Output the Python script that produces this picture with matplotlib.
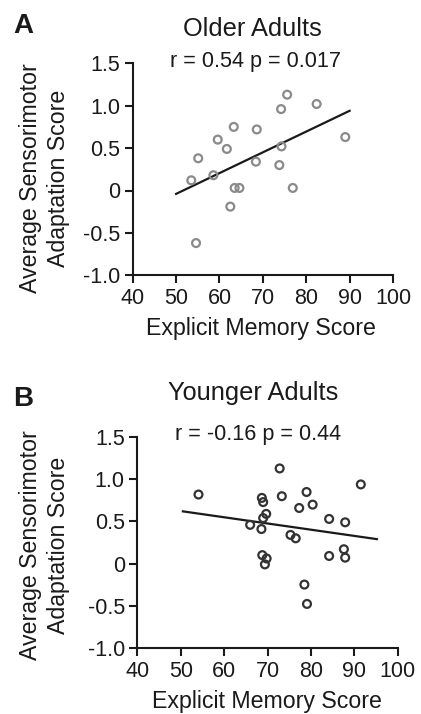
import matplotlib
matplotlib.use("Agg")
import matplotlib.pyplot as plt

plt.rcParams['font.family'] = ['Liberation Sans', 'DejaVu Sans']

# Older adults (panel A)
older_x = [53.5, 55.1, 54.6, 58.6, 59.6, 61.7, 63.3, 62.5, 63.5, 64.6,
           68.6, 68.4, 74.2, 75.6, 74.3, 73.8, 76.9, 82.4, 89.0]
older_y = [0.12, 0.38, -0.62, 0.18, 0.60, 0.49, 0.75, -0.19, 0.03, 0.03,
           0.72, 0.34, 0.96, 1.13, 0.52, 0.30, 0.03, 1.02, 0.63]
older_fit_x = [50, 90]
older_fit_y = [-0.04, 0.94]

# Younger adults (panel B)
younger_x = [54.1, 72.8, 91.5, 68.7, 69.0, 73.3, 79.0, 80.4, 77.3, 69.7,
             69.0, 66.0, 68.6, 84.2, 87.9, 75.3, 76.5, 68.8, 69.8, 69.4,
             84.2, 87.6, 87.9, 78.5, 79.1]
younger_y = [0.82, 1.13, 0.94, 0.78, 0.73, 0.80, 0.85, 0.70, 0.66, 0.59,
             0.54, 0.46, 0.41, 0.53, 0.49, 0.34, 0.30, 0.10, 0.06, -0.01,
             0.09, 0.17, 0.07, -0.25, -0.48]
younger_fit_x = [50.5, 95.2]
younger_fit_y = [0.62, 0.29]

x_ticks = [40, 50, 60, 70, 80, 90, 100]
y_ticks = [-1.0, -0.5, 0, 0.5, 1.0, 1.5]
y_ticklabels = ['-1.0', '-0.5', '0', '0.5', '1.0', '1.5']

W, H = 421, 714
fig = plt.figure(figsize=(W / 100, H / 100), dpi=100)
INK = '#1a1a1a'


def fx(px):
    return px / W


def fy(py):
    return 1 - py / H


def make_panel(rect, xs, ys, lx, ly, color, title, stat, letter,
               title_pos, stat_pos, letter_pos, xlabel_pos, ylabel_pos):
    ax = fig.add_axes(rect)
    ax.scatter(xs, ys, s=32, facecolors='none', edgecolors=color, linewidths=1.6,
               zorder=3, clip_on=False)
    ax.plot(lx, ly, color=INK, lw=1.6, zorder=2)
    ax.set_xlim(40, 100)
    ax.set_ylim(-1.0, 1.5)
    ax.set_xticks(x_ticks)
    ax.set_xticklabels([str(t) for t in x_ticks])
    ax.set_yticks(y_ticks)
    ax.set_yticklabels(y_ticklabels)
    for s in ['top', 'right']:
        ax.spines[s].set_visible(False)
    for s in ['left', 'bottom']:
        ax.spines[s].set_linewidth(1.5)
        ax.spines[s].set_color(INK)
    ax.tick_params(direction='out', length=5.5, width=1.5, labelsize=15.5, colors=INK)
    ax.tick_params(axis='x', pad=4.0)
    ax.tick_params(axis='y', pad=3.5)
    ax.set_xlabel('Explicit Memory Score', fontsize=16.7, color=INK)
    ax.xaxis.label.set_va('baseline')
    ax.xaxis.set_label_coords(fx(xlabel_pos[0]), fy(xlabel_pos[1]), transform=fig.transFigure)
    ax.set_ylabel('Average Sensorimotor\nAdaptation Score', fontsize=16.7, color=INK,
                  linespacing=1.3)
    ax.yaxis.set_label_coords(fx(ylabel_pos[0]), fy(ylabel_pos[1]), transform=fig.transFigure)
    fig.text(fx(title_pos[0]), fy(title_pos[1]), title, fontsize=18.3, ha='center',
             va='baseline', color=INK)
    fig.text(fx(stat_pos[0]), fy(stat_pos[1]), stat, fontsize=15.6, ha='center',
             va='baseline', color=INK)
    fig.text(fx(letter_pos[0]), fy(letter_pos[1]), letter, fontsize=20, fontweight='bold',
             ha='center', va='baseline', color=INK)
    return ax


make_panel([fx(132.7), fy(275.3), (393 - 132.7) / W, 212 / H],
           older_x, older_y, older_fit_x, older_fit_y, '#8a8a8a',
           'Older Adults', 'r = 0.54 p = 0.017', 'A',
           (252.5, 35.5), (256, 66.5), (23, 33), (261, 335), (70, 178))
make_panel([fx(137.3), fy(647.7), (397.7 - 137.3) / W, 210.4 / H],
           younger_x, younger_y, younger_fit_x, younger_fit_y, '#333333',
           'Younger Adults', 'r = -0.16 p = 0.44', 'B',
           (253, 400), (258, 440), (23, 406), (266.5, 708), (70, 545))

fig.savefig('out.png', dpi=100)
